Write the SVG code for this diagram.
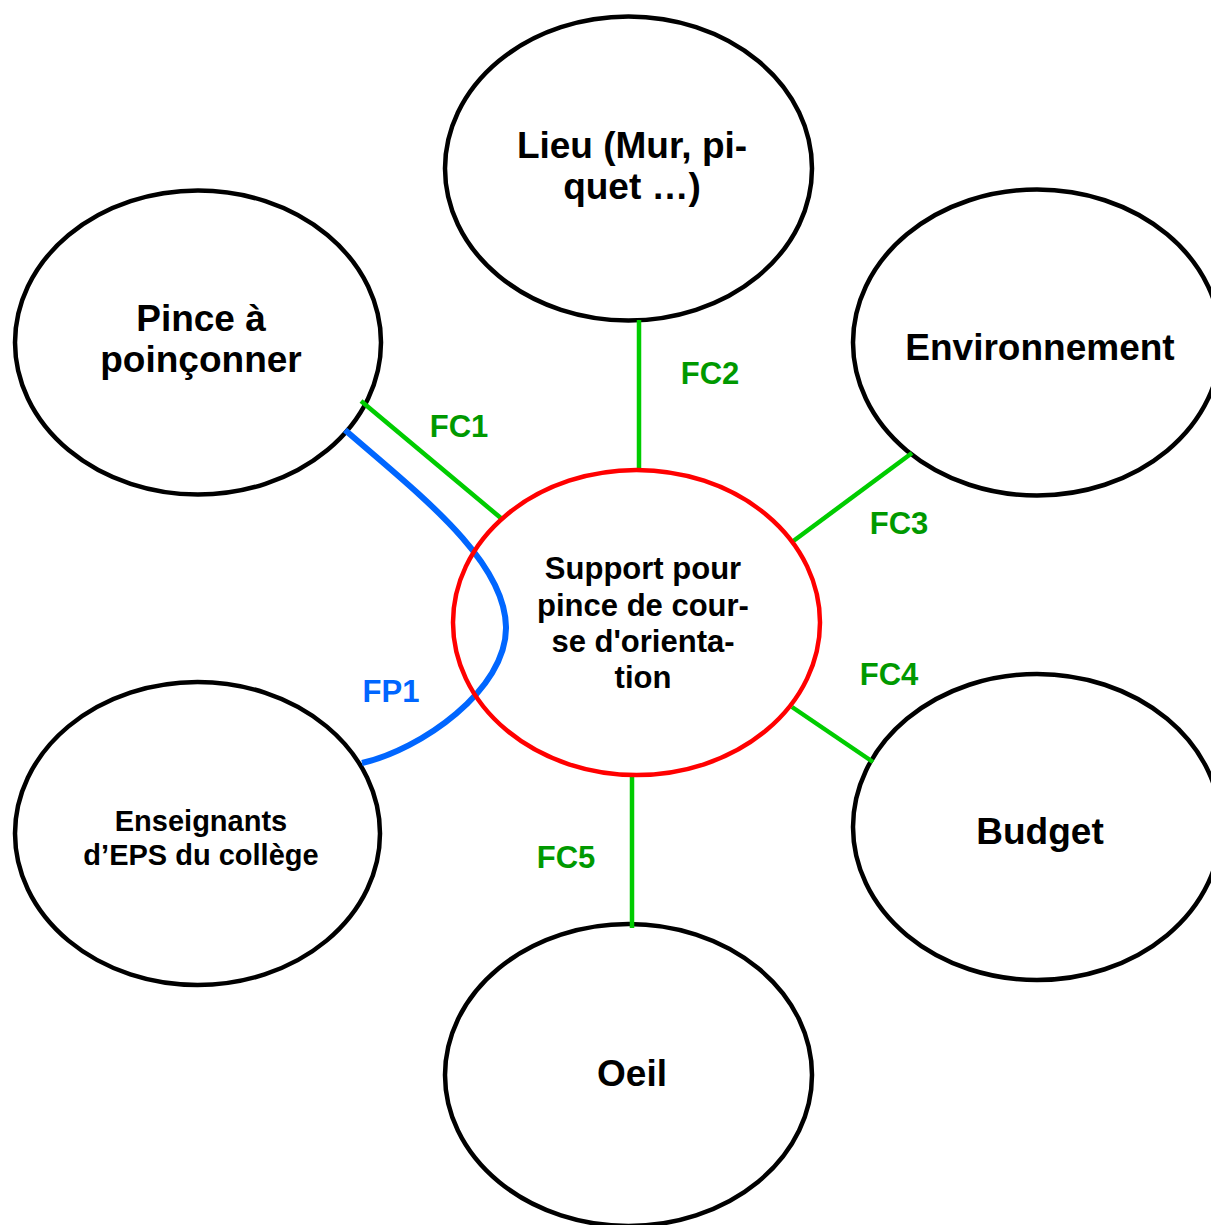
<svg xmlns="http://www.w3.org/2000/svg" width="1211" height="1225" viewBox="0 0 1211 1225">
<style>
.node{fill:#fff;stroke:#000;stroke-width:4.5}
.center{fill:none;stroke:#ff0000;stroke-width:4.5}
.t{font-family:"Liberation Sans",Arial,sans-serif;font-weight:bold;fill:#000;text-anchor:middle}
.big{font-size:37px}
.mid{font-size:31px}
.sm{font-size:29px}
.fc{stroke:#00cc00;stroke-width:4.5;fill:none}
.fp{stroke:#0066ff;stroke-width:6;fill:none;stroke-linecap:butt}
.lfc{font-family:"Liberation Sans",Arial,sans-serif;font-weight:bold;font-size:31px;fill:#009900;text-anchor:middle}
.lfp{font-family:"Liberation Sans",Arial,sans-serif;font-weight:bold;font-size:31px;fill:#0066ff;text-anchor:middle}
</style>
<rect width="1211" height="1225" fill="#fff"/>
<g id="node-lieu">
<ellipse class="node" cx="628.5" cy="168.5" rx="183.5" ry="152"/>
<text class="t big" x="632" y="158">Lieu (Mur, pi-</text>
<text class="t big" x="632" y="199">quet …)</text>
</g>
<g id="node-pince">
<ellipse class="node" cx="198" cy="342.5" rx="183" ry="152"/>
<text class="t big" x="201" y="331">Pince à</text>
<text class="t big" x="201" y="372">poinçonner</text>
</g>
<g id="node-environnement">
<ellipse class="node" cx="1037" cy="342.5" rx="184" ry="153"/>
<text class="t big" x="1040" y="360">Environnement</text>
</g>
<g id="node-enseignants">
<ellipse class="node" cx="197.5" cy="833.5" rx="182.5" ry="151.5"/>
<text class="t sm" x="201" y="831">Enseignants</text>
<text class="t sm" x="201" y="865">d’EPS du collège</text>
</g>
<g id="node-budget">
<ellipse class="node" cx="1037" cy="827" rx="184" ry="153"/>
<text class="t big" x="1040" y="844">Budget</text>
</g>
<g id="node-oeil">
<ellipse class="node" cx="628.5" cy="1075" rx="183.5" ry="151"/>
<text class="t big" x="632" y="1086">Oeil</text>
</g>
<g id="connectors">
<line class="fc" x1="361" y1="401" x2="502" y2="519"/>
<line class="fc" x1="639" y1="320" x2="639" y2="472"/>
<line class="fc" x1="912" y1="453" x2="792" y2="542"/>
<line class="fc" x1="792" y1="707" x2="873" y2="762"/>
<line class="fc" x1="632" y1="775" x2="632" y2="928"/>
<path class="fp" d="M345,430 C420,495 505,560 506,627 C507,690 420,750 362,763"/>
<text class="lfc" x="459" y="437">FC1</text>
<text class="lfc" x="710" y="384">FC2</text>
<text class="lfc" x="899" y="534">FC3</text>
<text class="lfc" x="889" y="685">FC4</text>
<text class="lfc" x="566" y="868">FC5</text>
<text class="lfp" x="391" y="702">FP1</text>
</g>
<g id="node-support">
<ellipse class="center" cx="636.5" cy="622.5" rx="183.5" ry="152.5"/>
<text class="t mid" x="643" y="579">Support pour</text>
<text class="t mid" x="643" y="616">pince de cour-</text>
<text class="t mid" x="643" y="652">se d'orienta-</text>
<text class="t mid" x="643" y="688">tion</text>
</g>
</svg>
